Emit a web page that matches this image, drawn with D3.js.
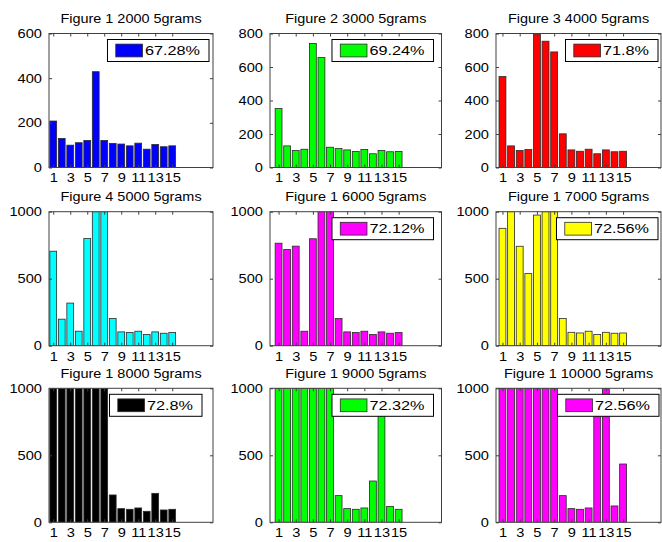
<!DOCTYPE html>
<html>
<head>
<meta charset="utf-8">
<script src="https://cdn.jsdelivr.net/npm/d3@7"></script>
<style>
body { margin: 0; background: #fff; }
text { font-family: "Liberation Sans", Arial, sans-serif; fill: #000; }
</style>
</head>
<body>
<script>
// Bar counts (positions 1..15)
var positions = d3.range(1, 16);
var xTickValues = [1, 3, 5, 7, 9, 11, 13, 15];

var bars2000 = [208, 130, 100, 111, 121, 429, 121, 108, 105, 97, 109, 82, 103, 93, 97];
var bars3000 = [352, 129, 101, 109, 740, 657, 121, 113, 105, 96, 107, 82, 101, 94, 96];
var bars4000 = [543, 129, 101, 107, 796, 754, 690, 201, 105, 97, 109, 82, 105, 94, 97];
var bars5000 = [705, 198, 318, 108, 800, 1000, 1000, 203, 103, 98, 108, 83, 103, 93, 98];
var bars6000 = [765, 718, 743, 108, 798, 1000, 1000, 203, 103, 98, 108, 83, 103, 93, 98];
var bars7000 = [876, 1000, 742, 538, 975, 1000, 1000, 203, 100, 95, 108, 83, 100, 93, 95];
var bars8000 = [1000, 1000, 1000, 1000, 1000, 1000, 1000, 204, 102, 97, 107, 82, 216, 92, 97];
var bars9000 = [1000, 1000, 1000, 1000, 1000, 1000, 1000, 199, 102, 97, 107, 308, 955, 119, 97];
var bars10000 = [1000, 1000, 1000, 1000, 1000, 1000, 1000, 199, 102, 97, 107, 870, 1000, 122, 435];

var titles = ["Figure 1 2000 5grams", "Figure 2 3000 5grams", "Figure 3 4000 5grams",
              "Figure 4 5000 5grams", "Figure 1 6000 5grams", "Figure 1 7000 5grams",
              "Figure 1 8000 5grams", "Figure 1 9000 5grams", "Figure 1 10000 5grams"];
var accuracy = ["67.28%", "69.24%", "71.8%", "", "72.12%", "72.56%", "72.8%", "72.32%", "72.56%"];
var yMax = [600, 800, 800, 1000, 1000, 1000, 1000, 1000, 1000];
var yTickStep = [200, 200, 200, 500, 500, 500, 500, 500, 500];

var series = [bars2000, bars3000, bars4000, bars5000, bars6000,
              bars7000, bars8000, bars9000, bars10000];

// Styles and layout
var barColors = ["#0000ff", "#00ff00", "#ff0000", "#00ffff", "#ff00ff",
                 "#ffff00", "#000000", "#00ff00", "#ff00ff"];
var w = 662, h = 542;
var colLeft = [49, 270, 496];
var colRight = [213, 441.5, 661];
var colXlim = [[0.5, 19.8], [0, 20], [0.25, 19.4]];
var rowTop = [33.5, 211.7, 388.3];
var axH = 134;
var legendInset = [4, 8, 3, 0, 8, 3, 11, 8, 2];
var lineColor = "#404040";

var svg = d3.select("body").append("svg")
    .attr("width", w)
    .attr("height", h);

var defs = svg.append("defs");

series.forEach(function(values, i) {
    var col = i % 3, row = Math.floor(i / 3);
    var left = colLeft[col], right = colRight[col];
    var top = rowTop[row], bottom = top + axH;

    var x = d3.scaleLinear().domain(colXlim[col]).range([left, right]);
    var y = d3.scaleLinear().domain([0, yMax[i]]).range([bottom, top]);
    var yTicks = d3.range(0, yMax[i] + 1, yTickStep[i]);
    var unit = x(1) - x(0);

    var g = svg.append("g");

    defs.append("clipPath").attr("id", "clip" + i)
        .append("rect")
        .attr("x", left).attr("y", top)
        .attr("width", right - left).attr("height", axH);

    // Bars
    g.append("g")
        .attr("clip-path", "url(#clip" + i + ")")
        .selectAll("rect")
        .data(values)
        .enter()
        .append("rect")
        .attr("x", function(d, j) { return x(positions[j] - 0.4); })
        .attr("width", unit * 0.8)
        .attr("y", function(d) { return y(d); })
        .attr("height", function(d) { return bottom - y(d); })
        .attr("fill", barColors[i])
        .attr("stroke", "#2a2a2a")
        .attr("stroke-width", 0.8);

    // Legend
    if (accuracy[i]) {
        var lg = g.append("g");
        var box = lg.append("rect")
            .attr("fill", "#fff")
            .attr("stroke", "#000")
            .attr("stroke-width", 1);
        var swatch = lg.append("rect")
            .attr("fill", barColors[i])
            .attr("stroke", "#2a2a2a")
            .attr("stroke-width", 0.8);
        var txt = lg.append("text")
            .attr("font-size", 13)
            .attr("dy", "0.35em")
            .text(accuracy[i]);
        var tw = txt.node().getComputedTextLength() * 1.25;
        var bw = 46.4 + tw, bh = 22;
        var bx = right - legendInset[i] - bw, by = top + 6;
        box.attr("x", bx).attr("y", by).attr("width", bw).attr("height", bh);
        swatch.attr("x", bx + 8.3).attr("y", by + bh / 2 - 6.4)
            .attr("width", 26.7).attr("height", 12.8);
        txt.attr("transform", "translate(" + (bx + 37.5) + "," + (by + bh / 2) + ") scale(1.25,1)");
    }

    // Axes: labelled bottom/left, plain ticks on top/right
    var xAxis = g.append("g")
        .attr("transform", "translate(0," + bottom + ")")
        .call(d3.axisBottom(x).tickValues(xTickValues).tickSizeInner(-3).tickSizeOuter(0));
    xAxis.selectAll("text")
        .attr("y", 6)
        .attr("font-size", 12.5)
        .attr("transform", "scale(1.17,1)");

    var yAxis = g.append("g")
        .attr("transform", "translate(" + left + ",0)")
        .call(d3.axisLeft(y).tickValues(yTicks).tickFormat(d3.format("d"))
            .tickSizeInner(-3).tickSizeOuter(0));
    yAxis.selectAll("text")
        .attr("x", -6)
        .attr("font-size", 12.5)
        .attr("transform", "scale(1.17,1)");

    g.append("g")
        .attr("transform", "translate(0," + top + ")")
        .call(d3.axisTop(x).tickValues(xTickValues).tickFormat("").tickSizeInner(-3).tickSizeOuter(0));
    g.append("g")
        .attr("transform", "translate(" + right + ",0)")
        .call(d3.axisRight(y).tickValues(yTicks).tickFormat("").tickSizeInner(-3).tickSizeOuter(0));

    g.selectAll(".domain").remove();
    g.selectAll(".tick line").attr("stroke", lineColor);
    g.selectAll(".tick text").attr("font-family", null).attr("fill", "#000");

    g.append("rect")
        .attr("x", left).attr("y", top)
        .attr("width", right - left).attr("height", axH)
        .attr("fill", "none")
        .attr("stroke", lineColor)
        .attr("stroke-width", 1);

    // Title
    g.append("text")
        .attr("transform", "translate(" + ((left + right) / 2) + "," + (top - 10.5) + ") scale(1.07,1)")
        .attr("text-anchor", "middle")
        .attr("font-size", 13.5)
        .text(titles[i]);
});
</script>
</body>
</html>
